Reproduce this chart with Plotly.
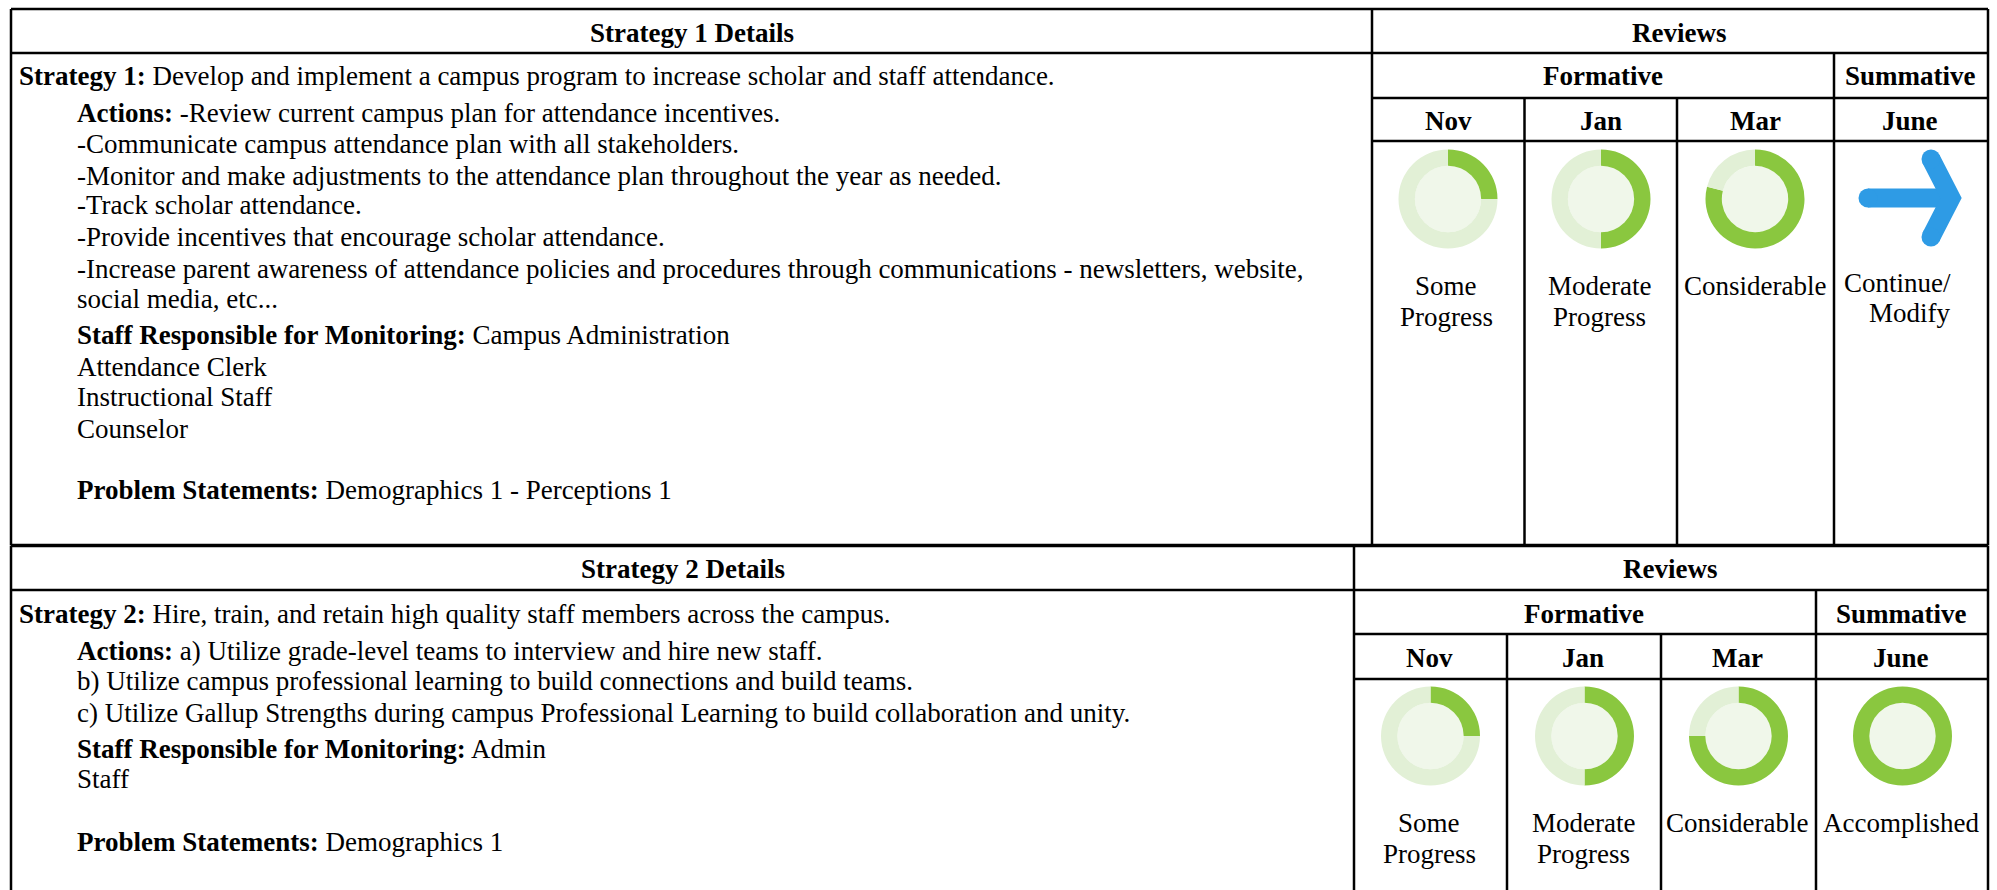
import plotly.graph_objects as go

W, H = 1997, 890
FONT = "Liberation Serif"
SIZE = 27

# ---------- data ----------
months = ["Nov", "Jan", "Mar", "June"]
s1_progress = [25, 50, 79]
s2_progress = [25, 50, 75, 100]
s1_status = ["Some<br>Progress", "Moderate<br>Progress", "Considerable"]
s2_status = ["Some<br>Progress", "Moderate<br>Progress", "Considerable", "Accomplished"]
s1_lines = [
    "<b>Strategy 1:</b> Develop and implement a campus program to increase scholar and staff attendance.",
    "<b>Actions:</b> -Review current campus plan for attendance incentives.",
    "-Communicate campus attendance plan with all stakeholders.",
    "-Monitor and make adjustments to the attendance plan throughout the year as needed.",
    "-Track scholar attendance.",
    "-Provide incentives that encourage scholar attendance.",
    "-Increase parent awareness of attendance policies and procedures through communications - newsletters, website,",
    "social media, etc...",
    "<b>Staff Responsible for Monitoring:</b> Campus Administration",
    "Attendance Clerk",
    "Instructional Staff",
    "Counselor",
    "<b>Problem Statements:</b> Demographics 1 - Perceptions 1",
]
s2_lines = [
    "<b>Strategy 2:</b> Hire, train, and retain high quality staff members across the campus.",
    "<b>Actions:</b> a) Utilize grade-level teams to interview and hire new staff.",
    "b) Utilize campus professional learning to build connections and build teams.",
    "c) Utilize Gallup Strengths during campus Professional Learning to build collaboration and unity.",
    "<b>Staff Responsible for Monitoring:</b> Admin",
    "Staff",
    "<b>Problem Statements:</b> Demographics 1",
]

# ---------- layout helpers ----------
GREEN, PALE, INNER, BLUE = "#8AC73F", "#E2F0D6", "#F0F7EA", "#2E9BE5"
DIAM, HOLE = 99, 0.67
LINE_GAP = 31

fig = go.Figure()
shapes, notes = [], []


def rule(x0, y0, x1, y1, w=2.5):
    shapes.append(dict(type="line", xref="x", yref="y", x0=x0, y0=y0, x1=x1, y1=y1,
                       line=dict(color="#000", width=w)))


def label(x, y, t, bold=False, anchor="center", align="center"):
    notes.append(dict(x=x, y=y, xref="x", yref="y", text=f"<b>{t}</b>" if bold else t,
                      showarrow=False, xanchor=anchor, yanchor="middle", align=align,
                      font=dict(family=FONT, size=SIZE, color="#000")))


def donut(cx, cy, pct):
    r = DIAM / 2
    ir = r * HOLE
    shapes.append(dict(type="circle", xref="x", yref="y", layer="below",
                       x0=cx - ir, x1=cx + ir, y0=cy - ir, y1=cy + ir,
                       fillcolor=INNER, line=dict(width=0)))
    fig.add_trace(go.Pie(
        values=[pct, 100 - pct], hole=HOLE, sort=False, direction="clockwise", rotation=0,
        marker=dict(colors=[GREEN, PALE], line=dict(width=0)), textinfo="none",
        hoverinfo="skip", showlegend=False,
        domain=dict(x=[(cx - r) / W, (cx + r) / W], y=[1 - (cy + r) / H, 1 - (cy - r) / H]),
    ))


def table(title, top, bottom, head_y, sub_y, mon_y, split, fs, col1, col2, cxs, sumx,
          forx, revx, ys, lines, text_ys, progress, status, icon_y, lab1, icon_dx, lab_dx):
    left, right = 11, 1988
    rule(left, top, right, top, 3.5 if top > 100 else 2.5)
    rule(left, head_y, right, head_y)
    rule(left, top, left, bottom)
    rule(right, top, right, bottom)
    rule(split, top, split, bottom)
    rule(split, sub_y, right, sub_y)
    rule(split, mon_y, right, mon_y)
    rule(fs, head_y, fs, bottom)
    rule(col1, sub_y, col1, bottom)
    rule(col2, sub_y, col2, bottom)
    label((left + split) / 2, ys[0], title, bold=True)
    label(revx, ys[0], "Reviews", bold=True)
    label(forx, ys[1], "Formative", bold=True)
    label(sumx, ys[1], "Summative", bold=True)
    for m, x in zip(months, cxs + [sumx]):
        label(x, ys[2], m, bold=True)
    for i, (t, y) in enumerate(zip(lines, text_ys)):
        label(16.5 if i == 0 else 74.5, y, t, anchor="left", align="left")
    for p, x in zip(progress, cxs + [sumx]):
        donut(x + icon_dx, icon_y, p)
    for s, x in zip(status, cxs + [sumx]):
        parts = s.split("<br>")
        dx = lab_dx if len(parts) > 1 else 0
        for k, part in enumerate(parts):
            label(x + dx, lab1 + LINE_GAP * k, part)


table("Strategy 1 Details", 9, 545, 53, 98, 141, 1372, 1834, 1524.5, 1677,
      [1448, 1601, 1755], 1910, 1603, 1679, [33, 76, 121],
      s1_lines, [76, 113, 144, 176, 205, 237, 269, 299, 335, 367, 397, 429, 490],
      s1_progress, s1_status, 199, 286, 0, -2)
table("Strategy 2 Details", 545.5, 890, 590, 634, 679, 1354, 1816, 1507, 1661,
      [1429, 1583, 1737], 1901, 1584, 1670, [569, 614, 658],
      s2_lines, [614, 651, 681, 713, 749, 779, 842],
      s2_progress, s2_status, 736, 823, 1.5, 0)

# Summative "Continue/Modify" arrow of strategy 1
arrow_x = [1868, 1950, None, 1931, 1951, 1931]
arrow_y = [198, 198, None, 159, 198, 237]
fig.add_trace(go.Scatter(x=arrow_x, y=arrow_y, mode="lines+markers", connectgaps=False,
                         line=dict(color=BLUE, width=19, shape="linear"),
                         marker=dict(color=[BLUE, "rgba(0,0,0,0)", BLUE, BLUE, "rgba(0,0,0,0)", BLUE],
                                     size=19, line=dict(width=0)),
                         hoverinfo="skip", showlegend=False))
label(1897, 283, "Continue/")
label(1910, 313, "Modify")

fig.update_layout(
    width=W, height=H, autosize=False, margin=dict(l=0, r=0, t=0, b=0),
    paper_bgcolor="white", plot_bgcolor="white", shapes=shapes, annotations=notes,
    xaxis=dict(range=[0, W], visible=False, fixedrange=True),
    yaxis=dict(range=[H, 0], visible=False, fixedrange=True),
)
fig.write_html("out.html", config=dict(displayModeBar=False),
               post_script="document.body.style.margin='0';document.body.style.overflow='hidden';")
